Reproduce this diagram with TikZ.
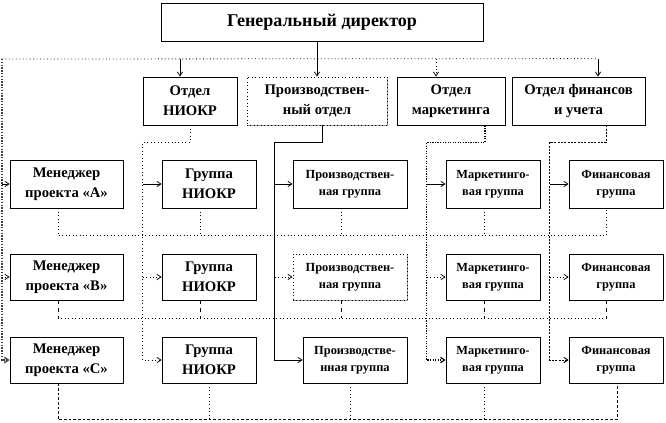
\documentclass[tikz,border=0pt]{standalone}
\usepackage{fontspec}
\setmainfont{Liberation Serif}
\usetikzlibrary{arrows.meta,calc,shadows}
\newcommand\mkbox[7][]{\node[box,#1,minimum width={(#5-#3)*0.75pt},minimum height={(#6-#4)*0.75pt}] (#2) at ({(#3+#5)/2},{(#4+#6)/2}) {#7};}
\begin{document}
\begin{tikzpicture}[x=0.75pt,y=-0.75pt,
 box/.style={draw=black, line width=0.6pt, fill=white, inner sep=0pt, align=center,
   drop shadow={shadow xshift=1.1pt, shadow yshift=-1.1pt, fill=black!40, opacity=1}},
 big/.style={font=\fontsize{13.5}{16}\selectfont\bfseries},
 mid/.style={font=\fontsize{11}{15}\selectfont\bfseries},
 sml/.style={font=\fontsize{9.3}{12.5}\selectfont\bfseries},
 ln/.style={line width=0.6pt},
 dt/.style={line width=0.6pt, dotted},
 lft/.style={line width=1.1pt, densely dotted, black!75},
 mkl/.style={line width=0.9pt, densely dotted},
 fnl/.style={line width=0.7pt, dash pattern=on 1.5pt off 1pt},
 b3/.style={line width=0.6pt, dash pattern=on 2pt off 1.5pt},
 arr/.style={-{Straight Barb[length=3pt,width=4pt]}},
]
\useasboundingbox (0,0) rectangle (666,422);

% boxes
\mkbox[big]{gd}{161}{3}{483}{41}{Генеральный директор}
\mkbox[mid]{nio}{143}{77}{237}{125}{Отдел\\НИОКР}
\mkbox[mid,dotted]{pr}{247}{77}{387}{125}{Производствен-\\ный отдел}
\mkbox[mid]{mk}{397}{77}{505}{125}{Отдел\\маркетинга}
\mkbox[mid]{fin}{512}{77}{645}{125}{Отдел финансов\\и учета}

\mkbox[mid]{m1}{10}{160}{123}{208}{Менеджер\\проекта «А»}
\mkbox[mid]{g1}{162}{160}{256}{208}{Группа\\НИОКР}
\mkbox[sml]{p1}{293}{160}{407}{208}{Производствен-\\ная группа}
\mkbox[sml]{k1}{446}{160}{540}{208}{Маркетинго-\\вая группа}
\mkbox[sml]{f1}{569}{160}{663}{208}{Финансовая\\группа}

\mkbox[mid]{m2}{10}{254}{123}{300}{Менеджер\\проекта «В»}
\mkbox[mid]{g2}{162}{254}{256}{300}{Группа\\НИОКР}
\mkbox[sml,dotted]{p2}{293}{254}{407}{300}{Производствен-\\ная группа}
\mkbox[sml]{k2}{446}{254}{540}{300}{Маркетинго-\\вая группа}
\mkbox[sml]{f2}{569}{254}{663}{300}{Финансовая\\группа}

\mkbox[mid]{m3}{10}{337}{123}{383}{Менеджер\\проекта «С»}
\mkbox[mid]{g3}{162}{337}{256}{383}{Группа\\НИОКР}
\mkbox[sml]{p3}{303}{337}{407}{383}{Производстве-\\нная группа}
\mkbox[sml]{k3}{446}{337}{540}{383}{Маркетинго-\\вая группа}
\mkbox[sml]{f3}{569}{337}{663}{383}{Финансовая\\группа}

% top connections
\coordinate (L) at (2,59);
\coordinate (R) at ($(fin.north)+(19.5,-18)$);
\draw[ln,arr] (gd.south -| pr.north) -- (pr.north);
\draw[dt] (L) -- (R);
\draw[ln,arr] (R) -- ($(fin.north)+(19.5,0)$);
\draw[ln,arr] ($(nio.north)+(-10,-18)$) -- ($(nio.north)+(-10,0)$);
\draw[dt,arr] ($(mk.north)+(-15,-18)$) -- ($(mk.north)+(-15,0)$);

% left line to managers
\draw[lft,arr] (L) |- (m3.west);
\draw[ln,arr] (L |- m1.west) -- (m1.west);
\draw[dt,arr] (L |- m2.west) -- (m2.west);

% department lines
\coordinate (nx) at ($(g1.west)+(-19,0)$);
\draw[dt,arr] (nio.south) -- ++(0,17) -| (nx |- g3.west) -- (g3.west);
\draw[ln,arr] (nx |- g1.west) -- (g1.west);
\draw[dt,arr] (nx |- g2.west) -- (g2.west);

\coordinate (px) at ($(p1.west)+(-18,0)$);
\draw[ln,arr] ($(pr.south)+(5,0)$) -- ++(0,17) -| (px |- p3.west) -- (p3.west);
\draw[ln,arr] (px |- p1.west) -- (p1.west);
\draw[dt,arr] (px |- p2.west) -- (p2.west);

\coordinate (kx) at ($(k1.west)+(-19,0)$);
\draw[mkl,arr] ($(mk.south)+(34,0)$) -- ++(0,17) -| (kx |- k3.west) -- (k3.west);
\draw[ln,arr] (kx |- k1.west) -- (k1.west);
\draw[dt,arr] (kx |- k2.west) -- (k2.west);

\coordinate (fx) at ($(f1.west)+(-19,0)$);
\draw[fnl,arr] ($(fin.south)+(27.5,0)$) -- ++(0,17) -| (fx |- f3.west) -- (f3.west);
\draw[ln,arr] (fx |- f1.west) -- (f1.west);
\draw[dt,arr] (fx |- f2.west) -- (f2.west);

% project buses
\draw[dt] ($(m1.south)+(-8.5,0)$) |- ($(f1.south)+(-10,27)$) -- ($(f1.south)+(-10,0)$);
\foreach \n in {g1,p1,k1} \draw[dt] ($(\n.south)+(-9,0)$) -- ++(0,27);

\draw[dt] ($(m2.south)+(-8.5,18)$) -- ($(f2.south)+(-10,18)$);
\foreach \n/\o in {m2/-8.5,g2/-9,p2/-9,k2/-9,f2/-10} \draw[ln,dashed] ($(\n.south)+(\o,0)$) -- ++(0,18);

\draw[b3] ($(m3.south)+(-8.5,0)$) |- ($(f3.south)+(1,36)$) -- ($(f3.south)+(1,0)$);
\foreach \n/\o in {g3/0,p3/-5,k3/-9} \draw[dt] ($(\n.south)+(\o,0)$) -- ++(0,36);
\end{tikzpicture}
\end{document}
